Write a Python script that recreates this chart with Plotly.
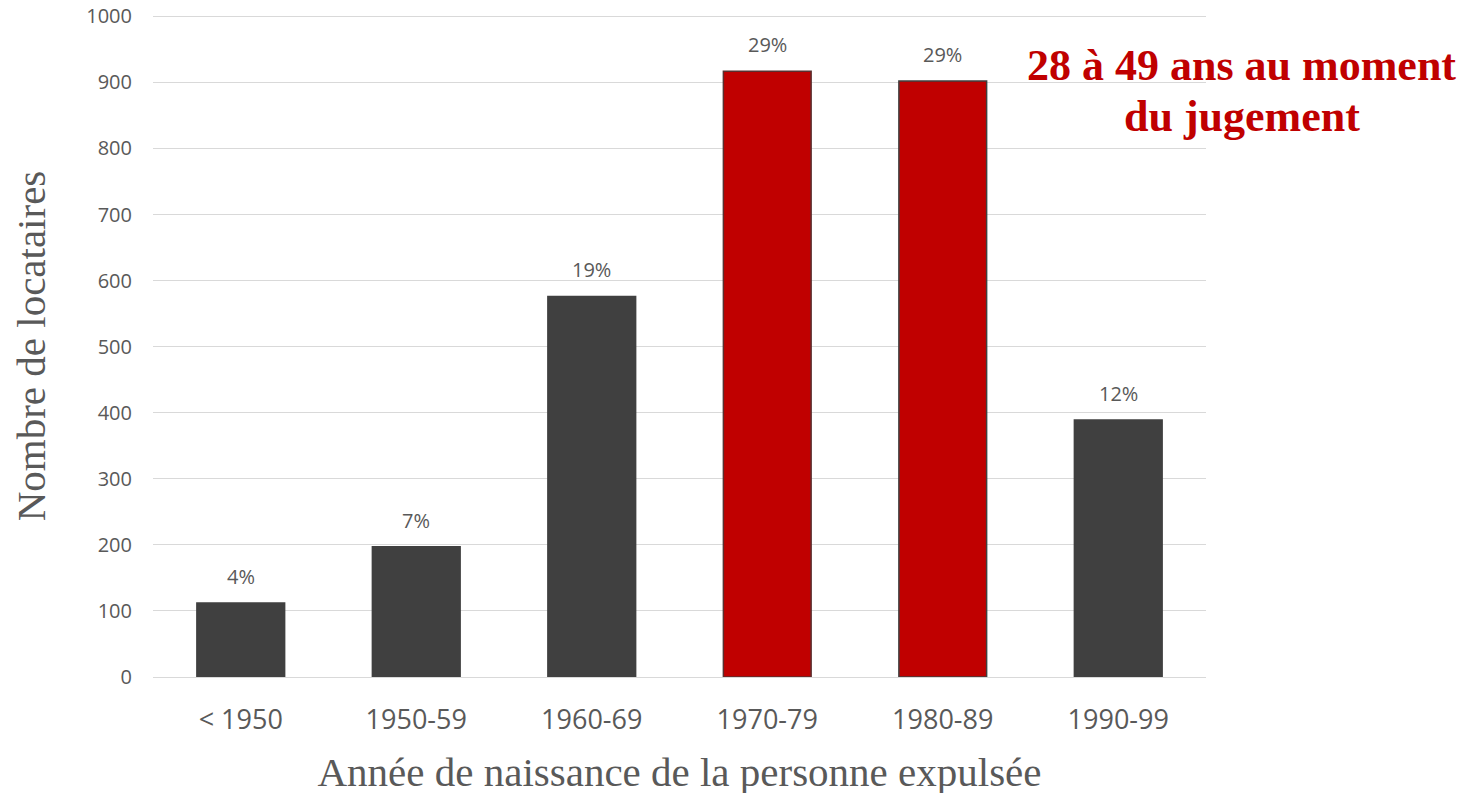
import plotly.graph_objects as go

categories = ["< 1950", "1950-59", "1960-69", "1970-79", "1980-89", "1990-99"]
values = [112, 197, 576, 917, 902, 389]
pct_labels = ["4%", "7%", "19%", "29%", "29%", "12%"]
colors = ["#404040", "#404040", "#404040", "#C00000", "#C00000", "#404040"]
line_colors = ["#404040", "#404040", "#404040", "#5a3030", "#404040", "#404040"]

fig = go.Figure()
fig.add_trace(go.Bar(
    x=categories, y=values, width=0.5,
    marker=dict(color=colors, line=dict(color=line_colors, width=1.5)),
))

annotations = []
for c, v, t in zip(categories, values, pct_labels):
    annotations.append(dict(
        x=c, y=v, text=t, xref="x", yref="y", showarrow=False,
        yanchor="bottom", yshift=11,
        font=dict(family="Open Sans", size=20, color="#595959"),
    ))

annotations.append(dict(
    text="<b>28 à 49 ans au moment</b>",
    xref="paper", yref="paper", x=1.034, y=0.923,
    xanchor="center", yanchor="middle", showarrow=False,
    font=dict(family="Liberation Serif", size=44, color="#C00000"),
))
annotations.append(dict(
    text="<b>du jugement</b>",
    xref="paper", yref="paper", x=1.034, y=0.847,
    xanchor="center", yanchor="middle", showarrow=False,
    font=dict(family="Liberation Serif", size=44, color="#C00000"),
))

fig.update_layout(
    width=1472, height=793,
    margin=dict(l=145, r=274, t=7, b=124),
    plot_bgcolor="white", paper_bgcolor="white",
    showlegend=False,
    xaxis=dict(
        title=dict(text="Année de naissance de la personne expulsée",
                   font=dict(family="Liberation Serif", size=41, color="#595959"),
                   standoff=20),
        tickfont=dict(family="Open Sans", size=27, color="#595959"),
        showline=True, linecolor="#d9d9d9", linewidth=1,
        ticks="outside", ticklen=19, tickcolor="rgba(0,0,0,0)",
        automargin=False,
    ),
    yaxis=dict(
        title=dict(text="Nombre de locataires",
                   font=dict(family="Liberation Serif", size=41, color="#595959"),
                   standoff=34),
        range=[0, 1002], tickvals=list(range(0, 1001, 100)),
        tickfont=dict(family="Open Sans", size=20, color="#595959"),
        ticklabeloverflow="allow",
        gridcolor="#d9d9d9", gridwidth=1,
        zeroline=True, zerolinecolor="#d9d9d9", zerolinewidth=1,
        ticks="outside", ticklen=16, tickcolor="rgba(0,0,0,0)",
        automargin=False,
    ),
    annotations=annotations,
)

fig.write_html("out.html")
